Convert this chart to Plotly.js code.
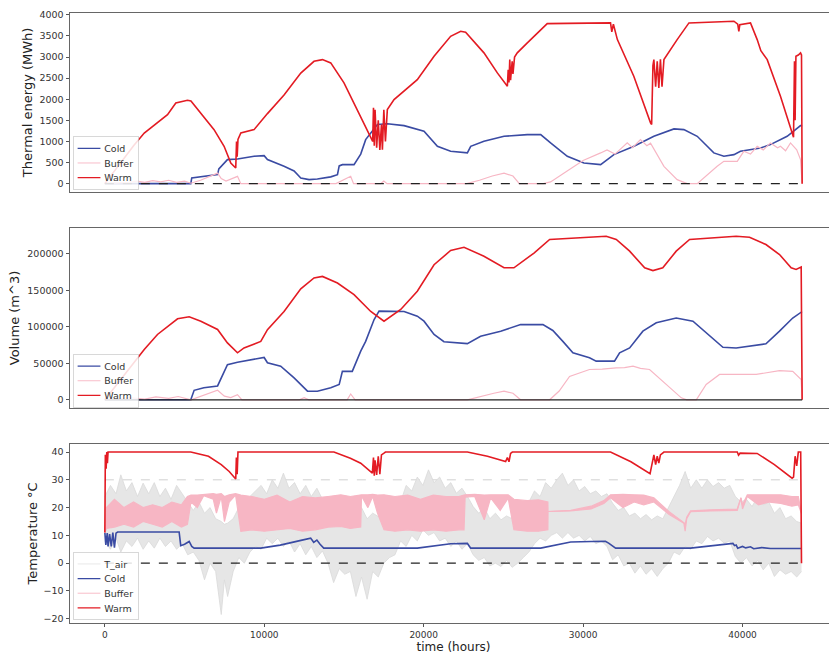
<!DOCTYPE html>
<html>
<head>
<meta charset="utf-8">
<script src="https://cdn.plot.ly/plotly-3.0.1.min.js"></script>
<style>
  html, body { margin: 0; padding: 0; overflow: hidden; background: #fff; }
</style>
</head>
<body>
<div id="chart"></div>
<script>
// ---- thermal energy (MWh) ----
const energyWarmT = [0, 300, 900, 1800, 2470, 3300, 3930, 4450, 5180, 5400, 6020, 6850, 7480, 7900, 8210, 8260, 8300, 8350, 8530,
  9360, 10200, 11240, 12290, 13120, 13650, 14170, 15000, 15840, 16680, 16800, 16850, 16900, 16950, 17050, 17150, 17250, 17350,
  17410, 17500, 17600, 17720, 18140, 19600, 20650, 21690, 22320, 22630, 23780, 24620, 25250, 25300, 25350, 25400, 25450, 25550,
  25600, 25700, 25870, 26500, 27750, 29000, 31100, 31500, 31720, 31800, 31900, 32150, 33180, 34230, 34300, 34380, 34440, 34550,
  34650, 34750, 34850, 34950, 35070, 35900, 36640, 39460, 39700, 39770, 39830, 40500, 40920, 41150, 41550, 42380, 43110, 43200,
  43260, 43300, 43350, 43500, 43640, 43700, 43740];
const energyWarm = [0, 150, 450, 900, 1200, 1440, 1636, 1913, 1975, 1960, 1676, 1280, 885, 490, 372, 1000, 640, 1050, 1200,
  1280, 1660, 2100, 2620, 2900, 2940, 2862, 2388, 1755, 1122, 1000, 1800, 900, 1750, 850, 1500, 800, 1400,
  806, 1750, 1000, 1755, 1992, 2466, 3020, 3493, 3612, 3588, 3100, 2625, 2307, 2700, 2400, 2940, 2450, 2900,
  2600, 3000, 3100, 3336, 3794, 3800, 3810, 3820, 3810, 3600, 3780, 3415, 2545, 1440, 1400, 2800, 2940, 2300,
  2900, 2270, 2950, 2300, 2940, 3415, 3810, 3850, 3780, 3612, 3770, 3810, 3415, 3150, 2940, 2070, 1200, 1100,
  2900, 1500, 3020, 3050, 3100, 3050, 0];

const energyColdT = [0, 5390, 5450, 6210, 7070, 7150, 7690, 8320, 9360, 9990, 10200, 11240, 11870, 12290, 12810, 13330, 14170,
  14590, 14700, 14900, 15630, 16050, 16360, 17100, 17720, 18770, 20020, 20860, 21690, 22740, 22950, 23780, 25040, 26500, 27340,
  27960, 29010, 30050, 31100, 31930, 33190, 34440, 35700, 36320, 37160, 38200, 38830, 39460, 39870, 41130, 41750, 42800, 43640, 43740];
const energyCold = [0, 0, 135, 173, 213, 350, 570, 585, 648, 664, 570, 410, 300, 135, 95, 110, 160,
  213, 420, 450, 450, 700, 1043, 1400, 1420, 1375, 1240, 885, 766, 728, 885, 1003, 1122, 1162, 1162,
  965, 648, 490, 450, 688, 885, 1122, 1297, 1280, 1122, 728, 648, 688, 766, 845, 925, 1122, 1375, 1380];

const energyBufferT = [0, 1500, 2000, 2500, 3000, 3500, 4000, 4500, 5000, 5400, 6000, 6600, 7070, 7300, 7600, 8320, 8530,
  14500, 15420, 15600, 17300, 17500, 17700, 22700, 23500, 24300, 25040, 25600, 26000, 27500, 27960, 29000, 30000, 31100,
  31500, 32000, 32770, 33100, 33600, 34000, 34230, 35070, 35900, 36530, 37160, 38410, 38830, 39670, 40080, 40500, 40920,
  41300, 41750, 42200, 42380, 42700, 43010, 43400, 43640, 43740];
const energyBuffer = [0, 30, 60, 30, 70, 40, 80, 30, 60, 10, 80, 180, 250, 120, 60, 173, 0,
  0, 173, 0, 0, 60, 0, 0, 80, 180, 250, 180, 0, 0, 40, 300, 550, 728,
  800, 700, 965, 850, 1043, 900, 960, 410, 95, 0, 0, 410, 528, 528, 766, 700, 885,
  800, 965, 850, 885, 780, 965, 800, 570, 0];

// ---- volume (m^3) ----
const volWarmT = [0, 1000, 1840, 2470, 3300, 4140, 4560, 5290, 6020, 7070, 7690, 8320, 8730, 9780, 10200, 11240, 12290, 13120,
  13650, 14590, 15630, 16680, 17510, 18560, 19600, 20650, 21690, 22530, 23780, 25040, 25660, 26920, 27900, 31450, 32080, 32920,
  33860, 34380, 35000, 35840, 36680, 39600, 40440, 41470, 42320, 43050, 43360, 43680, 43740];
const volWarm = [0, 28000, 50700, 68900, 89500, 103000, 111000, 113700, 107700, 96300, 78000, 64400, 71000, 80000, 96000, 121000, 152000, 167000,
  169000, 160000, 144000, 121000, 107700, 123700, 148800, 185000, 204500, 209000, 196700, 180800, 180800, 201000, 219600, 224000, 219600, 203600,
  180800, 177000, 180800, 203600, 219600, 224000, 222700, 212700, 199000, 180800, 178500, 182000, 0];

const volColdT = [0, 5390, 5600, 6210, 7070, 7150, 7690, 8320, 9150, 9990, 10200, 11030, 11870, 12710, 13330, 14170, 14700,
  14900, 15520, 16050, 16360, 16890, 17200, 18770, 19600, 20020, 20650, 21270, 22740, 23570, 24830, 26080, 27480, 28100,
  28730, 29360, 30400, 30820, 31970, 32290, 32920, 33750, 34590, 35840, 36890, 37720, 38770, 39600, 41470, 42320, 43150, 43680, 43740];
const volCold = [0, 0, 13000, 16400, 19000, 23000, 48000, 51500, 55000, 58000, 50700, 46000, 30000, 11800, 11800, 16400, 21000,
  39000, 39000, 66600, 80000, 110000, 121400, 121000, 114500, 107700, 89500, 79500, 77000, 87000, 94000, 103000, 103000, 95000,
  80000, 64400, 57500, 53000, 53000, 64400, 71000, 94000, 105500, 112000, 107700, 91800, 72000, 71000, 76700, 94000, 112000, 120000, 120000];

const volBufferT = [0, 1500, 2500, 3200, 4000, 4600, 5400, 6200, 7070, 7500, 7900, 8320, 8600, 12200, 12500, 12800, 15200, 15420,
  15700, 22740, 23600, 24400, 25040, 25600, 26080, 27900, 28500, 29150, 30400, 31200, 32080, 32600, 33130, 33600, 34170, 35000,
  36160, 36500, 37100, 37720, 38560, 40860, 41500, 42320, 43150, 43680, 43740];
const volBuffer = [0, 3000, 1000, 4000, 2000, 4500, 0, 6000, 13000, 5000, 3000, 7000, 0, 0, 3000, 0, 0, 8000,
  0, 0, 5000, 9000, 11800, 9000, 0, 0, 12000, 32000, 41500, 42000, 43800, 44000, 46000, 43000, 41500, 25500,
  2700, 0, 0, 21000, 34700, 34700, 37000, 40000, 39000, 27800, 0];

// ---- temperature (°C) ----
const tempWarmT = [0, 30, 80, 120, 160, 200, 380, 5390, 6500, 7300, 7800, 8000, 8210, 8250, 8300, 8350, 8400, 14370, 15400,
  16050, 16780, 16850, 16900, 16950, 17050, 17150, 17250, 17350, 17510, 17600, 22740, 24000, 25140, 25250, 25350, 25450, 25560,
  31720, 33000, 34130, 34200, 34440, 34550, 34650, 34750, 34850, 35070, 39670, 39750, 39850, 40920, 42000, 43110, 43200, 43300,
  43400, 43500, 43650, 43700];
const tempWarm = [11, 39, 34, 40, 36, 40, 40, 40, 38.5, 35.5, 33, 31.8, 30.3, 38, 32, 40, 40, 40, 37.8,
  36, 32.4, 38, 31.5, 37, 31.8, 38.5, 32, 39, 39.6, 40, 40, 38.5, 36.6, 38, 36.5, 39.5, 40,
  40, 36.5, 32.4, 32.2, 39, 35.5, 38.5, 36, 39, 40, 40, 38.9, 39.6, 39.5, 35.5, 30.6, 31, 38.5,
  35, 40, 40, 0];

const tempColdT = [0, 60, 150, 200, 300, 400, 500, 600, 700, 800, 4660, 4760, 5000, 5290, 5450, 5600, 9780, 11000, 12300,
  12910, 13100, 13300, 13500, 13730, 19600, 21690, 22740, 22950, 27340, 29220, 30500, 31400, 31600, 32040, 36740, 38500,
  39240, 39400, 39500, 39600, 39700, 40000, 40200, 40500, 40700, 41200, 41750, 43700];
const tempCold = [11, 6.6, 10.8, 6, 10.5, 6, 11, 5.6, 10.8, 11.2, 11.2, 6.3, 6.8, 7.8, 6, 5.4, 5.4, 6.5, 8.2,
  9.0, 7.5, 8.3, 6.8, 5.4, 5.4, 7.0, 7.1, 5.4, 5.4, 7.6, 7.8, 7.9, 7.2, 5.4, 5.4, 6.7,
  7.2, 7.1, 6.3, 6.5, 5.4, 6.0, 5.5, 5.9, 5.2, 5.6, 5.3, 5.3];

// buffer temperature swings fast: kept as low / high envelope
const tempBufferT = [0, 100, 600, 1200, 1800, 2400, 3000, 3600, 4200, 4800, 5180, 5400, 5800, 6200, 6800, 7000, 7300, 7500,
  7800, 8200, 8530, 9200, 10000, 10800, 11600, 12400, 13200, 14000, 14800, 15400, 16050, 16100, 16500, 16800, 17100, 17510,
  18200, 19000, 19800, 20600, 21400, 22200, 22530, 22600, 23200, 23800, 24200, 24800, 25300, 25660, 26500, 27200, 27790,
  27800, 29220, 30500, 31300, 31720, 32500, 33200, 33800, 34440, 35400, 36320, 36400, 36500, 36740, 38000, 39670, 39900,
  40000, 40300, 41000, 41700, 42400, 43100, 43500, 43700];
const tempBufferLo = [11, 12.5, 13, 14, 13, 15, 14, 13, 15, 13, 14, 22, 20, 24.3, 23, 18, 24, 15,
  22, 24.5, 11.5, 12, 11.5, 12, 12.5, 11.5, 12, 13, 13.2, 12.5, 13, 24.2, 20, 24, 18, 12,
  11.5, 12, 11.5, 12, 11.5, 12, 12, 23.8, 24, 15.6, 23.5, 19, 23.4, 12, 11.5, 11.5, 12,
  18.6, 18.8, 19.5, 21.5, 23.5, 20, 22, 21, 22, 17.5, 14.4, 11.5, 16, 18.5, 18.8, 19, 23.4,
  19.5, 24, 21, 22, 21.5, 20.5, 21, 17.9];
const tempBufferHi = [11, 20, 23, 20, 22, 20, 21, 20, 22, 21, 24, 24.5, 24.5, 24.8, 25, 24.8, 25, 24,
  24.6, 25, 24.5, 24, 23, 24.5, 22, 24, 23.5, 24, 24.6, 24, 24.6, 24.6, 24.6, 24.8, 24.5, 24.6,
  24, 24.5, 23, 24.5, 24, 24, 24.5, 24.6, 24.8, 24.5, 24.6, 24.5, 24.6, 23, 22.5, 22.8, 22,
  18.6, 19, 20.5, 22.5, 24.6, 24.8, 24.6, 24.5, 23.5, 18.5, 14.6, 14, 16.5, 18.8, 19.2, 19.5, 23.6,
  21, 24.6, 24.6, 24.5, 24.6, 24, 24, 17.9];

// outdoor air temperature: low / high envelope
const tairT = [0, 350, 700, 1000, 1350, 1700, 2050, 2400, 2750, 3100, 3450, 3800, 4150, 4500, 4850, 5200, 5550, 5900,
  6250, 6600, 6950, 7300, 7500, 7700, 8050, 8400, 8750, 9100, 9450, 9800, 10150, 10500, 10850, 11200, 11550, 11900,
  12250, 12600, 12950, 13300, 13650, 14000, 14350, 14700, 15050, 15400, 15750, 16100, 16450, 16800, 17150, 17500,
  17850, 18200, 18550, 18900, 19250, 19600, 19950, 20300, 20650, 21000, 21350, 21700, 22050, 22400, 22750, 23100,
  23450, 23800, 24150, 24500, 24850, 25200, 25550, 25900, 26250, 26600, 26950, 27300, 27650, 28000, 28350, 28700,
  29050, 29400, 29750, 30100, 30450, 30800, 31150, 31500, 31850, 32200, 32550, 32900, 33250, 33600, 33950, 34300,
  34650, 35000, 35350, 35700, 36050, 36400, 36750, 37100, 37450, 37800, 38150, 38500, 38850, 39200, 39550, 39900,
  40250, 40600, 40950, 41300, 41650, 42000, 42350, 42700, 43050, 43400, 43700];
const tairLo = [8, 5, 9, 4, 8, 6, 9, 5, 8, 5.4, 9, 6, 8, 5, 7, 3, 4, 1,
  -6, 0, -3, -18.5, -6, -12, -3, 2, 0, 4, 6, 5, 9, 7, 9, 6, 8, 4,
  7, 3, 6, 2, 4.4, 0, -7, -2, -4, -3, -12, -5, -13, -3, -5, 0,
  2, 3, 8, 6, 10, 8, 12, 10, 11, 8, 9, 6, 8, 5, 7, 3,
  1, 2, -1, 0, -1.2, 1, -1.5, 0, 2, 4, 7, 9, 8, 10, 11, 9,
  11, 9, 10, 8, 9.6, 7, 8, 6, 1.2, 3, -1, 0, -3.6, -1, -4, -2,
  -4.8, -2, 0, 4, 3, 6, 5, 8, 7, 9.6, 8, 9, 7.2, 8, 2.4, 0,
  2, -1, 1, -2.4, 0, -4.8, -2.4, -4, -3, -5, -3];
const tairHi = [24, 28, 25, 31.8, 26, 29, 24, 28.8, 25, 29, 24, 27, 23, 28, 25, 22, 19, 22,
  18, 20, 16, 15, 14, 14.4, 16, 20, 18, 24, 26, 28, 25, 30, 27, 32.4, 27, 29,
  25, 28, 24, 27, 23, 24, 20, 22.8, 19, 21, 17, 20, 16, 18, 16.8, 19,
  17, 24, 22, 28, 26, 31, 28, 33.6, 29, 31, 27, 29, 25.2, 27, 24, 20.4,
  18, 20, 16, 18, 15.6, 17, 16, 19, 18, 22, 26, 24, 29, 27, 30, 32.4,
  28, 30, 26, 27.6, 25, 26, 24, 25, 21.6, 19, 20, 17, 18, 16, 17.5, 15.6,
  17, 16, 20, 24, 28, 33, 27, 30, 27, 30, 27.6, 29, 27, 28, 24, 22,
  23, 20.4, 24, 21, 22, 18, 20, 16, 17, 15, 14.4];

const warmMinTemp = 30;

const colors = { cold: '#3a4ba3', buffer: '#f7b6c4', warm: '#e31b23', air: '#d9d9d9' };
const FONT = 'DejaVu Sans, Liberation Sans, sans-serif';

const tEnd = energyWarmT[energyWarmT.length - 1];
const xPad = tEnd * 0.05;

function line(x, y, name, color, width, axes, legend, extra) {
  return Object.assign({
    x: x, y: y, name: name, type: 'scatter', mode: 'lines',
    line: { color: color, width: width },
    xaxis: axes[0], yaxis: axes[1], legend: legend,
  }, extra || {});
}

const axTop = ['x', 'y'], axMid = ['x2', 'y2'], axBot = ['x3', 'y3'];

const traces = [
  line(energyColdT, energyCold, 'Cold', colors.cold, 1.6, axTop, 'legend'),
  line(energyBufferT, energyBuffer, 'Buffer', colors.buffer, 1.2, axTop, 'legend'),
  line(energyWarmT, energyWarm, 'Warm', colors.warm, 1.6, axTop, 'legend'),

  line(volColdT, volCold, 'Cold', colors.cold, 1.6, axMid, 'legend2'),
  line(volBufferT, volBuffer, 'Buffer', colors.buffer, 1.2, axMid, 'legend2'),
  line(volWarmT, volWarm, 'Warm', colors.warm, 1.6, axMid, 'legend2'),

  line(tairT, tairLo, 'T_air', colors.air, 0.8, axBot, 'legend3'),
  line(tairT, tairHi, 'T_air', colors.air, 0.8, axBot, 'legend3',
       { showlegend: false, fill: 'tonexty', fillcolor: '#e6e6e6' }),
  line(tempColdT, tempCold, 'Cold', colors.cold, 1.6, axBot, 'legend3'),
  line(tempBufferT, tempBufferLo, 'Buffer', colors.buffer, 1.2, axBot, 'legend3'),
  line(tempBufferT, tempBufferHi, 'Buffer', colors.buffer, 1.2, axBot, 'legend3',
       { showlegend: false, fill: 'tonexty', fillcolor: colors.buffer }),
  line(tempWarmT, tempWarm, 'Warm', colors.warm, 1.6, axBot, 'legend3'),
];

const axisBase = {
  showline: true, mirror: true, linecolor: '#666', linewidth: 1,
  showgrid: false, zeroline: false,
  ticks: 'outside', ticklen: 3.5, tickwidth: 1, tickcolor: '#555',
  tickfont: { family: FONT, size: 9.5, color: '#333' },
};
const xRange = [-xPad, tEnd + xPad];
function xAxis(anchor, labels) {
  const ax = Object.assign({}, axisBase, {
    domain: [0, 1], range: xRange, anchor: anchor,
    showticklabels: labels, ticks: labels ? 'outside' : '',
    dtick: 10000, tick0: 0, tickformat: 'd',
  });
  if (!labels) ax.matches = 'x3';
  return ax;
}
function yAxis(domain, range, dtick, title, anchor, standoff) {
  return Object.assign({}, axisBase, {
    domain: domain, range: range, dtick: dtick, anchor: anchor, tickformat: 'd',
    title: { text: title, font: { family: FONT, size: 13, color: '#222' }, standoff: standoff },
  });
}

// plotly legend rows are at least 19px tall; scale the boxes down afterwards
const LEGEND_SCALE = 0.76;
function legendAt(y) {
  return {
    x: 0.004, y: y, xanchor: 'left', yanchor: 'bottom', traceorder: 'normal',
    bgcolor: 'rgba(255,255,255,0.85)', bordercolor: '#cccccc', borderwidth: 1,
    font: { family: FONT, size: 12.5, color: '#333' }, itemwidth: 30, tracegroupgap: 0,
  };
}

function zeroLine(xref, yref, dash, color) {
  return {
    type: 'line', xref: xref, yref: yref, x0: 0, x1: tEnd, y0: 0, y1: 0,
    line: { color: color, width: 1.3, dash: dash }, layer: 'above',
  };
}

// figure is a bit wider than the window: the right spine falls just outside, as in the source
const layout = {
  width: 840, height: 664,
  margin: { l: 69.5, r: 2.5, t: 13.3, b: 40.7 },
  paper_bgcolor: '#fff', plot_bgcolor: '#fff',
  showlegend: true,
  xaxis: xAxis('y', false),
  xaxis2: xAxis('y2', false),
  xaxis3: Object.assign(xAxis('y3', true), {
    ticklen: 3, tickfont: { family: FONT, size: 9, color: '#333' },
    title: { text: 'time (hours)', font: { family: FONT, size: 12, color: '#222' }, standoff: 0 },
  }),
  yaxis: yAxis([0.707, 1], [-192, 4045], 500, 'Thermal energy (MWh)', 'x', 3),
  yaxis2: yAxis([0.3525, 0.6475], [-11200, 235300], 50000, 'Volume (m^3)', 'x2', 4),
  yaxis3: yAxis([0, 0.2939], [-21.55, 43.0], 10, 'Temperature °C', 'x3', 2),
  legend: legendAt(0.71),
  legend2: legendAt(0.353),
  legend3: legendAt(0.005),
  shapes: [
    zeroLine('x', 'y', 'dash', '#222'),
    zeroLine('x2', 'y2', 'solid', '#222'),
    zeroLine('x3', 'y3', 'dash', '#222'),
    {
      type: 'line', xref: 'x3', yref: 'y3', x0: 0, x1: tEnd, y0: warmMinTemp, y1: warmMinTemp,
      line: { color: '#d0d0d0', width: 1, dash: 'dash' }, layer: 'below',
    },
  ],
};

Plotly.newPlot('chart', traces, layout, { displayModeBar: false, staticPlot: true }).then(() => {
  document.querySelectorAll('#chart g.legend, #chart g.legend2, #chart g.legend3').forEach((g) => {
    const m = /translate\(\s*([-\d.e]+)[\s,]+([-\d.e]+)\s*\)/.exec(g.getAttribute('transform') || '');
    const bg = g.querySelector('rect.bg');
    if (!m || !bg) return;
    const h = parseFloat(bg.getAttribute('height')) || 0;
    const x = parseFloat(m[1]), y = parseFloat(m[2]);
    g.setAttribute('transform', `translate(${x},${y + h * (1 - LEGEND_SCALE)}) scale(${LEGEND_SCALE})`);
  });
});
</script>
</body>
</html>
